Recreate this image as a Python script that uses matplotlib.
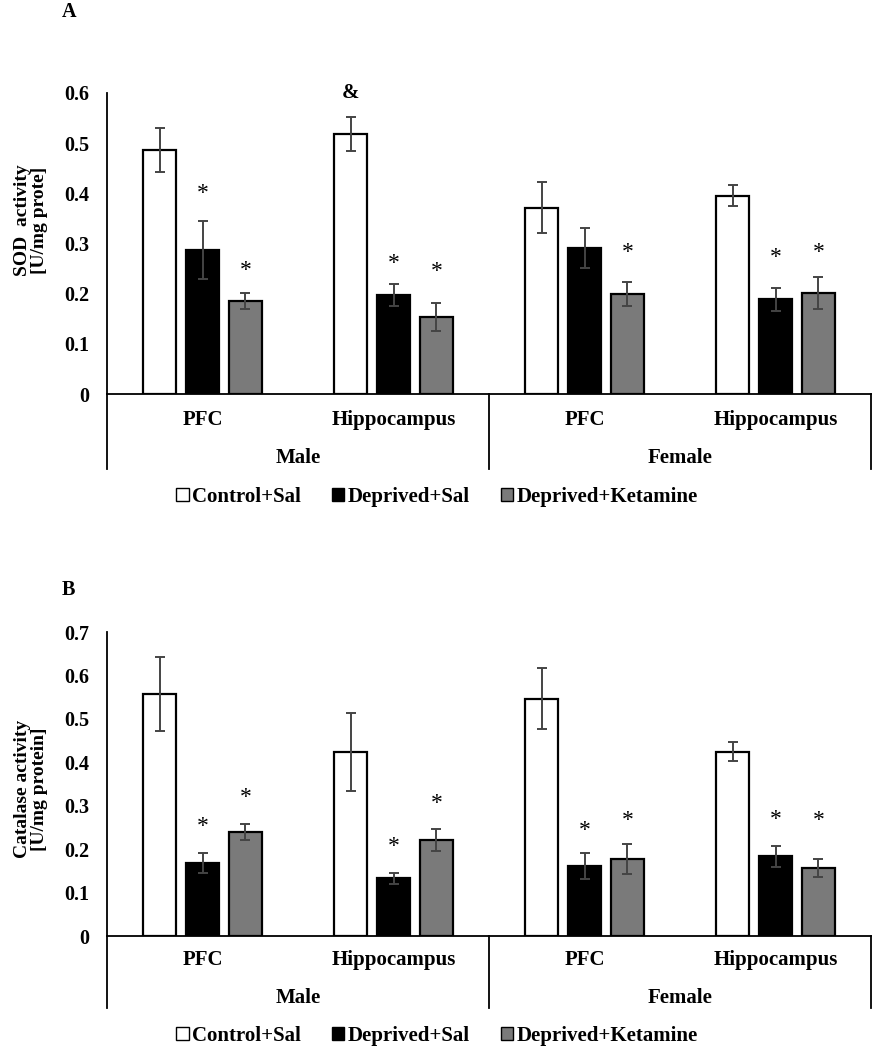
import matplotlib
matplotlib.use("Agg")
import matplotlib.pyplot as plt
from matplotlib.patches import Patch
from matplotlib.ticker import FuncFormatter
import numpy as np

plt.rcParams['font.family'] = ['Liberation Serif', 'DejaVu Serif']
plt.rcParams['font.weight'] = 'bold'

groups = ["Control+Sal", "Deprived+Sal", "Deprived+Ketamine"]
regions = ["PFC", "Hippocampus", "PFC", "Hippocampus"]
sexes = ["Male", "Female"]

# Panel A: SOD activity
sod_control = [0.486, 0.518, 0.371, 0.395]
sod_control_err = [0.044, 0.034, 0.051, 0.021]
sod_deprived = [0.287, 0.197, 0.291, 0.189]
sod_deprived_err = [0.057, 0.022, 0.040, 0.023]
sod_ketamine = [0.186, 0.153, 0.199, 0.201]
sod_ketamine_err = [0.016, 0.028, 0.024, 0.032]
# annotations: (group index, category index, text, y)
sod_marks = [(0, 1, "&", 0.600),
             (1, 0, "*", 0.400), (2, 0, "*", 0.247),
             (1, 1, "*", 0.261), (2, 1, "*", 0.245),
             (2, 2, "*", 0.283),
             (1, 3, "*", 0.273), (2, 3, "*", 0.283)]

# Panel B: Catalase activity
cat_control = [0.557, 0.424, 0.546, 0.424]
cat_control_err = [0.085, 0.090, 0.070, 0.022]
cat_deprived = [0.168, 0.133, 0.161, 0.184]
cat_deprived_err = [0.024, 0.013, 0.029, 0.024]
cat_ketamine = [0.240, 0.221, 0.177, 0.157]
cat_ketamine_err = [0.018, 0.025, 0.035, 0.020]
cat_marks = [(1, 0, "*", 0.251), (2, 0, "*", 0.320),
             (1, 1, "*", 0.207), (2, 1, "*", 0.304),
             (1, 2, "*", 0.244), (2, 2, "*", 0.265),
             (1, 3, "*", 0.269), (2, 3, "*", 0.267)]

colors = ["white", "black", "#7a7a7a"]
W, H = 875, 1050
fig = plt.figure(figsize=(W / 100, H / 100), dpi=100)


def fy(py):
    return 1 - py / H


def panel(top_px, bot_px, values, errs, marks, ymax, ylabel, ylab_y, letter, letter_y,
          region_y, sex_y, line_end, legend_y):
    left, right = 107, 871
    ax = fig.add_axes([left / W, fy(bot_px), (right - left) / W, (bot_px - top_px) / H])
    x = np.arange(len(regions)) + 0.5
    offs = [-0.225, 0.0, 0.225]
    width = 0.175
    for gi in range(3):
        ax.bar(x + offs[gi], values[gi], width, color=colors[gi], edgecolor="black",
               linewidth=1.6, zorder=2)
        ax.errorbar(x + offs[gi], values[gi], yerr=errs[gi], fmt="none",
                    ecolor="#444444", elinewidth=1.4, capsize=3.5, capthick=1.4, zorder=3)
    for gi, ci, txt, yv in marks:
        if txt == "&":
            ax.text(x[ci] + offs[gi], yv, txt, ha="center", va="center",
                    fontsize=15, fontweight="bold")
        else:
            ax.text(x[ci] + offs[gi], yv, txt, ha="center", va="center",
                    fontsize=17, fontweight="normal")
    ax.set_xlim(0, 4)
    ax.set_ylim(0, ymax)
    ax.set_yticks(np.arange(0, ymax + 0.001, 0.1))
    ax.yaxis.set_major_formatter(FuncFormatter(lambda v, p: "0" if abs(v) < 1e-9 else f"{v:.1f}"))
    ax.tick_params(axis="y", length=0, pad=13, labelsize=14.5)
    ax.set_xticks([])
    for s in ["top", "right", "bottom"]:
        ax.spines[s].set_visible(False)
    ax.spines["left"].set_linewidth(1.3)
    ax.axhline(0, color="black", lw=1.3, zorder=4, clip_on=False)
    ax_h = bot_px - top_px
    depth = (line_end - bot_px) / ax_h
    tr = ax.get_xaxis_transform()
    for xv in [0, 2, 4]:
        ax.plot([xv, xv], [0, -depth], color="black", lw=1.3, transform=tr, clip_on=False)
    for ci, r in enumerate(regions):
        ax.text(x[ci], -(region_y - bot_px) / ax_h, r, transform=tr, ha="center",
                va="center", fontsize=15, fontweight="bold")
    for si, s in enumerate(sexes):
        ax.text(1 + 2 * si, -(sex_y - bot_px) / ax_h, s, transform=tr, ha="center",
                va="center", fontsize=15, fontweight="bold")
    fig.text(31 / W, fy(ylab_y), ylabel, rotation=90, ha="center", va="center",
             fontsize=14, fontweight="bold", linespacing=1.0)
    fig.text(62 / W, fy(letter_y), letter, ha="left", va="center", fontsize=14.5,
             fontweight="bold")
    handles = [Patch(facecolor=c, edgecolor="black", linewidth=1.0) for c in colors]
    fig.legend(handles, groups, loc="center", bbox_to_anchor=(437 / W, fy(legend_y)),
               ncol=3, frameon=False, fontsize=15, handlelength=0.6, handleheight=0.6,
               handletextpad=0.15, columnspacing=1.5, borderpad=0, borderaxespad=0)
    return ax


panel(93, 394, [sod_control, sod_deprived, sod_ketamine],
      [sod_control_err, sod_deprived_err, sod_ketamine_err], sod_marks, 0.6,
      "SOD  activity\n[U/mg prote]", 220, "A", 12, 420, 458, 469, 497)
panel(632, 936, [cat_control, cat_deprived, cat_ketamine],
      [cat_control_err, cat_deprived_err, cat_ketamine_err], cat_marks, 0.7,
      "Catalase activity\n[U/mg protein]", 789, "B", 590, 960, 998, 1008, 1036)

fig.savefig("out.png", dpi=100)
